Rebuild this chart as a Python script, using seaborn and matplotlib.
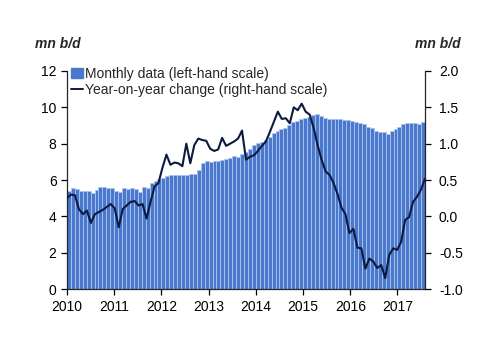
import numpy as np
import pandas as pd
import matplotlib
matplotlib.use("Agg")
import matplotlib.pyplot as plt
import seaborn as sns
from matplotlib.patches import Patch
from matplotlib.lines import Line2D

# monthly output, Jan 2010 - Jul 2017 (mn b/d)
monthly = [
    5.41, 5.54, 5.49, 5.39, 5.39, 5.39, 5.30, 5.45, 5.60, 5.60, 5.54, 5.54,  # 2010
    5.40, 5.35, 5.54, 5.49, 5.54, 5.49, 5.35, 5.60, 5.54, 5.85, 5.95, 6.05,  # 2011
    6.12, 6.22, 6.26, 6.27, 6.28, 6.30, 6.27, 6.35, 6.33, 6.55, 6.95, 7.04,  # 2012
    7.00, 7.04, 7.06, 7.10, 7.15, 7.23, 7.34, 7.28, 7.41, 7.55, 7.72, 7.90,  # 2013
    8.02, 8.11, 8.20, 8.38, 8.60, 8.71, 8.79, 8.88, 9.03, 9.17, 9.26, 9.34,  # 2014
    9.39, 9.48, 9.56, 9.61, 9.52, 9.43, 9.38, 9.35, 9.36, 9.33, 9.30, 9.28,  # 2015
    9.25, 9.21, 9.12, 9.10, 8.92, 8.84, 8.71, 8.66, 8.66, 8.53, 8.71, 8.80,  # 2016
    8.90, 9.08, 9.12, 9.12, 9.12, 9.08, 9.21,                                # 2017
]

# year-on-year change (mn b/d)
yoy = [
    0.25, 0.30, 0.29, 0.10, 0.03, 0.08, -0.09, 0.03, 0.06, 0.09, 0.13, 0.17,
    0.11, -0.15, 0.10, 0.15, 0.20, 0.21, 0.15, 0.17, -0.03, 0.20, 0.41, 0.46,
    0.67, 0.85, 0.71, 0.74, 0.73, 0.69, 1.00, 0.73, 0.98, 1.07, 1.05, 1.04,
    0.93, 0.90, 0.92, 1.08, 0.97, 1.00, 1.03, 1.07, 1.18, 0.78, 0.82, 0.84,
    0.90, 0.97, 1.03, 1.16, 1.30, 1.44, 1.34, 1.35, 1.28, 1.50, 1.46, 1.55,
    1.44, 1.40, 1.22, 0.98, 0.78, 0.62, 0.57, 0.46, 0.31, 0.12, 0.03, -0.23,
    -0.17, -0.43, -0.44, -0.72, -0.58, -0.62, -0.71, -0.67, -0.85, -0.53, -0.44, -0.46,
    -0.35, -0.05, -0.01, 0.20, 0.27, 0.37, 0.52,
]

years = [2010, 2011, 2012, 2013, 2014, 2015, 2016, 2017]
left_ticks = [0, 2, 4, 6, 8, 10, 12]
right_ticks = [-1.0, -0.5, 0.0, 0.5, 1.0, 1.5, 2.0]

bar_col = "#4a78cc"
edge_col = "#adc4ee"
line_col = "#0b1a3e"

sns.set_style("ticks")
plt.rcParams["font.family"] = ["Liberation Sans", "DejaVu Sans"]
plt.rcParams["font.size"] = 10

n = len(monthly)
df = pd.DataFrame({"pos": np.arange(n), "value": monthly})
# line spans from the left edge of the first bar to the right edge of the last
line_x = np.linspace(-0.5, n - 0.5, len(yoy))
df_line = pd.DataFrame({"x": line_x, "yoy": yoy})

fig = plt.figure(figsize=(5.0, 3.53), dpi=100)
ax = fig.add_axes([0.134, 0.181, 0.716, 0.618])

sns.barplot(data=df, x="pos", y="value", native_scale=True, width=1.0,
            color=bar_col, edgecolor=edge_col, linewidth=0.6, saturation=1,
            ax=ax)
ax.set_xlim(-0.5, n - 0.5)
ax.set_ylim(0, 12)
ax.set_yticks(left_ticks)
ax.set_yticklabels([str(t) for t in left_ticks])
ax.set_xticks([12 * i - 0.5 for i in range(len(years))])
ax.set_xticklabels([str(y) for y in years])
ax.set_xlabel("")
ax.set_ylabel("")

ax2 = ax.twinx()
sns.lineplot(data=df_line, x="x", y="yoy", color=line_col, linewidth=1.5, ax=ax2)
ax2.set_ylim(-1.0, 2.0)
ax2.set_yticks(right_ticks)
ax2.set_yticklabels([f"{t:.1f}" for t in right_ticks])
ax2.set_ylabel("")
ax2.set_xlim(-0.5, n - 0.5)

for a in (ax, ax2):
    a.spines["top"].set_visible(False)
    for s in ("left", "right", "bottom"):
        a.spines[s].set_linewidth(0.9)
    a.tick_params(direction="out", length=4, width=0.9, labelsize=10, colors="black")
ax.spines["right"].set_visible(False)
ax2.spines["left"].set_visible(False)
ax2.spines["bottom"].set_visible(False)
ax2.tick_params(axis="y", pad=6)

handles = [Patch(facecolor=bar_col, edgecolor=bar_col),
           Line2D([0], [0], color=line_col, linewidth=1.4)]
labels = ["Monthly data (left-hand scale)", "Year-on-year change (right-hand scale)"]
ax2.legend(handles, labels, loc="upper left", bbox_to_anchor=(-0.003, 1.045),
           frameon=False, borderaxespad=0, handlelength=0.8, handleheight=0.8,
           handletextpad=0.2, labelspacing=0.15, fontsize=10)

fig.text(0.07, 0.865, "mn b/d", fontsize=10, fontweight="bold", fontstyle="italic")
fig.text(0.83, 0.865, "mn b/d", fontsize=10, fontweight="bold", fontstyle="italic")

fig.savefig("out.png", dpi=100)
